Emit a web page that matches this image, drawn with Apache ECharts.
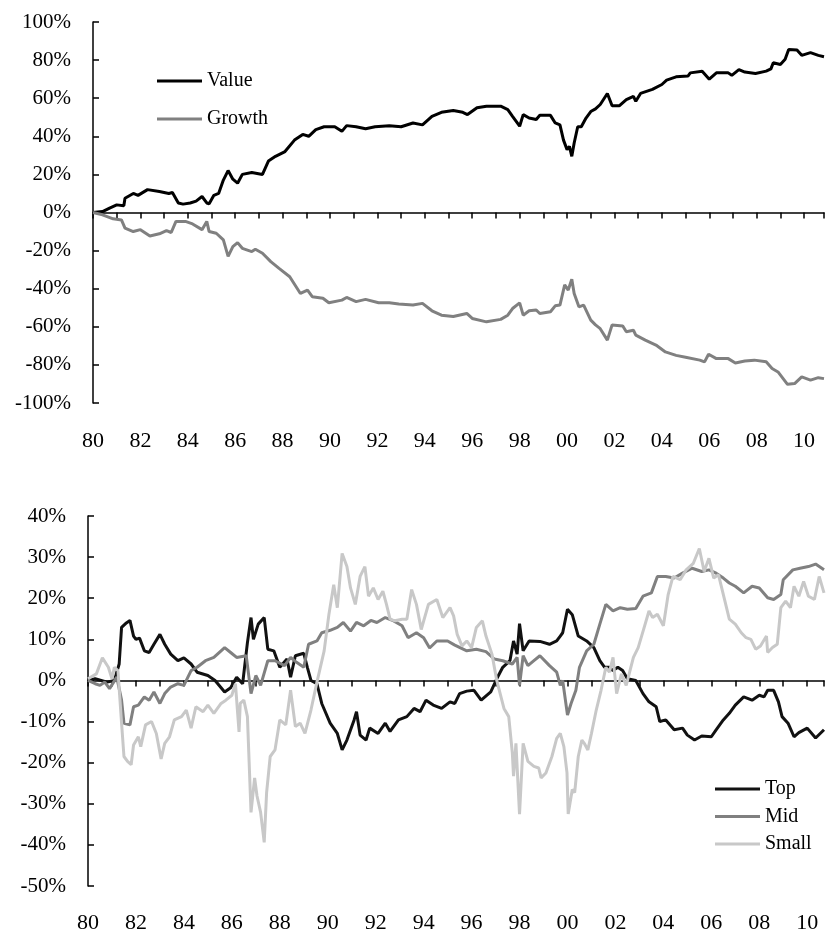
<!DOCTYPE html>
<html>
<head>
<meta charset="utf-8">
<script src="https://cdn.jsdelivr.net/npm/echarts@6/dist/echarts.min.js"></script>
<style>
  html, body { margin: 0; padding: 0; background: #fff; }
  #chart { width: 827px; height: 934px; }
</style>
</head>
<body>
<div id="chart"></div>
<script>
// upper panel: Value vs Growth (cumulative, %)
var valueYears = [1980.0, 1980.4, 1980.7, 1981.0, 1981.3, 1981.35, 1981.7, 1981.9, 1982.3, 1982.8, 1983.2, 1983.35, 1983.6, 1983.8, 1984.1, 1984.35, 1984.6, 1984.8, 1984.9, 1985.1, 1985.3, 1985.5, 1985.7, 1985.9, 1986.1, 1986.3, 1986.7, 1987.15, 1987.4, 1987.7, 1988.1, 1988.5, 1988.85, 1989.1, 1989.4, 1989.75, 1990.2, 1990.5, 1990.7, 1991.1, 1991.5, 1991.9, 1992.5, 1993.0, 1993.5, 1993.9, 1994.3, 1994.7, 1995.2, 1995.6, 1995.8, 1996.2, 1996.6, 1997.2, 1997.5, 1997.7, 1998.0, 1998.15, 1998.4, 1998.7, 1998.85, 1999.3, 1999.5, 1999.7, 1999.85, 2000.0, 2000.1, 2000.2, 2000.3, 2000.45, 2000.6, 2000.8, 2001.0, 2001.2, 2001.4, 2001.7, 2001.9, 2002.2, 2002.5, 2002.8, 2002.9, 2003.1, 2003.6, 2004.0, 2004.2, 2004.6, 2005.1, 2005.2, 2005.7, 2006.0, 2006.3, 2006.8, 2006.95, 2007.25, 2007.5, 2007.95, 2008.4, 2008.6, 2008.7, 2009.0, 2009.2, 2009.35, 2009.7, 2009.9, 2010.27, 2010.6, 2010.84];
var valueData = [0, 0.5, 2.3, 4, 3.5, 7.5, 10, 9, 12, 11, 10, 10.5, 5, 4.4, 5, 6, 8.4, 5, 4.6, 9, 10, 17, 22, 17.5, 15.4, 20, 21, 20, 27, 29.5, 32, 38, 41, 40, 43.5, 45, 45, 42.6, 45.6, 45, 44, 45, 45.6, 45, 47, 46, 50.5, 52.6, 53.5, 52.6, 51.4, 55, 55.8, 55.8, 54, 50.5, 45.3, 51.4, 49.6, 48.8, 51, 51, 47, 46, 38, 33, 34.7, 29.5, 36.5, 45, 45, 49.6, 53, 54.4, 56.7, 62.5, 56, 56, 59.3, 61, 58.4, 62.5, 64.6, 67.2, 69.5, 71.2, 71.6, 73.3, 74.2, 70, 73.3, 73.3, 72, 75, 73.7, 73, 74.2, 75.4, 78.6, 77.7, 80.4, 85.6, 85.3, 82.5, 83.9, 82.5, 81.8];

var growthYears = [1980.0, 1980.4, 1980.85, 1981.2, 1981.35, 1981.7, 1982.0, 1982.4, 1982.8, 1983.1, 1983.3, 1983.5, 1983.9, 1984.2, 1984.6, 1984.8, 1984.9, 1985.2, 1985.5, 1985.7, 1985.9, 1986.1, 1986.3, 1986.7, 1986.85, 1987.15, 1987.5, 1987.85, 1988.3, 1988.75, 1989.05, 1989.25, 1989.7, 1989.95, 1990.5, 1990.7, 1991.1, 1991.5, 1992.05, 1992.5, 1992.9, 1993.5, 1993.9, 1994.3, 1994.7, 1995.2, 1995.77, 1996.0, 1996.6, 1997.2, 1997.5, 1997.7, 1998.0, 1998.15, 1998.4, 1998.7, 1998.85, 1999.3, 1999.5, 1999.7, 1999.9, 2000.05, 2000.2, 2000.3, 2000.5, 2000.7, 2001.0, 2001.2, 2001.4, 2001.7, 2001.9, 2002.35, 2002.5, 2002.8, 2002.9, 2003.3, 2003.75, 2004.15, 2004.6, 2005.0, 2005.6, 2005.8, 2005.97, 2006.3, 2006.8, 2007.1, 2007.5, 2007.9, 2008.4, 2008.65, 2008.9, 2009.3, 2009.6, 2009.9, 2010.27, 2010.6, 2010.84];
var growthData = [0, -1.2, -3.3, -3.9, -8.2, -10, -9, -12.3, -11.2, -9.5, -10.5, -4.7, -4.7, -6, -9, -4.7, -10, -10.9, -14.4, -23, -17.9, -15.8, -18.8, -20.5, -19.3, -21.4, -25.8, -29.3, -33.7, -42.5, -40.7, -44.2, -45, -47.4, -46, -44.6, -46.8, -45.6, -47.4, -47.4, -48, -48.6, -47.7, -51.6, -53.9, -54.6, -53, -55.6, -57.4, -56.1, -53.9, -50.4, -47.4, -53.9, -51.6, -51.2, -53, -52.1, -49, -48.6, -38, -40.7, -35, -42.5, -49.5, -48.6, -56.5, -59, -61, -67, -59, -59.6, -62.6, -61.8, -64.4, -67, -69.6, -73.2, -75, -76, -77.5, -78.4, -74.4, -76.7, -76.7, -79, -78, -77.5, -78.4, -81.9, -83.7, -90.2, -89.8, -86.3, -88, -86.7, -87.2];

// lower panel: Top / Mid / Small (%)
var topYears = [1980.0, 1980.3, 1980.55, 1980.8, 1981.1, 1981.3, 1981.4, 1981.6, 1981.75, 1981.9, 1982.0, 1982.15, 1982.35, 1982.55, 1982.75, 1983.0, 1983.2, 1983.45, 1983.75, 1984.0, 1984.3, 1984.55, 1985.0, 1985.3, 1985.7, 1985.95, 1986.2, 1986.45, 1986.65, 1986.8, 1986.9, 1987.1, 1987.35, 1987.5, 1987.75, 1988.0, 1988.3, 1988.45, 1988.65, 1989.0, 1989.15, 1989.3, 1989.55, 1989.75, 1990.1, 1990.4, 1990.6, 1990.8, 1991.1, 1991.2, 1991.35, 1991.6, 1991.75, 1992.1, 1992.4, 1992.6, 1992.95, 1993.3, 1993.6, 1993.85, 1994.1, 1994.4, 1994.75, 1995.1, 1995.3, 1995.5, 1995.8, 1996.1, 1996.4, 1996.8, 1997.05, 1997.3, 1997.6, 1997.75, 1997.9, 1998.0, 1998.15, 1998.4, 1998.85, 1999.25, 1999.55, 1999.7, 1999.8, 2000.0, 2000.2, 2000.45, 2000.8, 2001.1, 2001.35, 2001.55, 2001.75, 2001.9, 2002.1, 2002.3, 2002.5, 2002.85, 2003.15, 2003.4, 2003.7, 2003.85, 2004.1, 2004.45, 2004.8, 2005.0, 2005.3, 2005.6, 2006.0, 2006.2, 2006.5, 2006.75, 2007.0, 2007.35, 2007.7, 2008.0, 2008.2, 2008.35, 2008.6, 2008.8, 2008.95, 2009.2, 2009.45, 2009.65, 2010.0, 2010.35, 2010.7];
var topData = [0, 0.4, 0, -0.4, 0, 4, 12.9, 14, 14.6, 10.8, 10, 10.3, 7.2, 6.8, 8.8, 11.2, 8.8, 6.4, 4.8, 5.5, 4, 2, 1.2, 0, -2.8, -1.8, 0.8, -0.8, 9.2, 15.3, 10, 13.7, 15.3, 7.6, 7.2, 3.2, 5.2, 0.8, 6, 6.6, 3.2, 0, -0.8, -5.6, -10.4, -12.9, -16.9, -14.5, -9.6, -7.6, -13.3, -14.5, -11.6, -12.9, -10.4, -12.4, -9.6, -8.8, -6.8, -7.6, -4.8, -6, -6.8, -5.2, -5.6, -3.2, -2.6, -2.4, -4.8, -2.8, 0.4, 3.2, 4.8, 9.6, 6.4, 13.8, 7.2, 9.6, 9.5, 8.8, 9.6, 10.8, 11.6, 17.3, 16, 10.8, 9.6, 8, 4.8, 3.2, 3.2, 2.4, 3.2, 2.4, 0.4, 0, -3.2, -5.2, -6.4, -10, -9.6, -12, -11.6, -13.3, -14.5, -13.5, -13.7, -12, -9.6, -8, -6, -4, -4.8, -3.6, -4, -2.4, -2.4, -5.2, -8.8, -10.4, -13.7, -12.7, -11.6, -14, -12];

var midYears = [1980.0, 1980.3, 1980.5, 1980.7, 1980.9, 1981.2, 1981.4, 1981.5, 1981.75, 1981.9, 1982.1, 1982.35, 1982.55, 1982.75, 1983.0, 1983.2, 1983.45, 1983.75, 1984.0, 1984.3, 1984.55, 1984.9, 1985.25, 1985.7, 1985.95, 1986.2, 1986.6, 1986.8, 1987.0, 1987.2, 1987.5, 1987.8, 1988.2, 1988.45, 1988.7, 1989.0, 1989.2, 1989.55, 1989.75, 1990.1, 1990.4, 1990.65, 1990.95, 1991.2, 1991.5, 1991.8, 1992.05, 1992.4, 1992.75, 1993.1, 1993.35, 1993.7, 1994.0, 1994.25, 1994.55, 1995.0, 1995.3, 1995.8, 1996.2, 1996.6, 1996.95, 1997.3, 1997.7, 1997.9, 1998.0, 1998.15, 1998.35, 1998.6, 1998.85, 1999.25, 1999.55, 1999.7, 1999.8, 2000.0, 2000.15, 2000.35, 2000.5, 2000.8, 2001.1, 2001.35, 2001.6, 2001.9, 2002.2, 2002.5, 2002.85, 2003.15, 2003.5, 2003.75, 2004.1, 2004.45, 2004.8, 2005.2, 2005.6, 2005.9, 2006.2, 2006.5, 2006.75, 2007.0, 2007.35, 2007.7, 2008.0, 2008.35, 2008.6, 2008.9, 2009.0, 2009.4, 2009.7, 2010.05, 2010.35, 2010.7];
var midData = [0, -0.8, -1.2, -0.4, -2, 0.8, -4.8, -10.4, -10.8, -6.4, -6, -4, -4.8, -2.8, -5.6, -3.2, -1.6, -0.8, -1.2, 2.4, 3.2, 4.8, 5.6, 8, 6.8, 5.6, 6, -3.2, 1.2, -1.2, 4.8, 4.8, 3.6, 5.6, 4.4, 3.2, 8.8, 9.6, 11.6, 12.2, 12.9, 14.1, 12, 14.1, 13.3, 14.6, 14.1, 15.3, 14.5, 13.3, 10.4, 11.6, 10.4, 7.9, 9.6, 9.6, 8.6, 7.2, 7.6, 7, 5.2, 4.8, 4, 5.6, -1.2, 6, 3.6, 4.8, 6, 3.6, 2, -1.2, 0, -8.4, -5.6, -2.4, 3.2, 7.2, 8.8, 13.7, 18.5, 16.9, 17.7, 17.3, 17.5, 20.5, 21.3, 25.3, 25.3, 24.9, 26.1, 27.3, 26.5, 26.9, 26.1, 24.9, 23.7, 22.9, 21.3, 22.9, 22.5, 20.1, 19.7, 20.9, 24.5, 26.9, 27.3, 27.7, 28.3, 26.9];

var smallYears = [1980.0, 1980.35, 1980.6, 1980.85, 1981.0, 1981.1, 1981.25, 1981.4, 1981.5, 1981.65, 1981.8, 1981.9, 1982.1, 1982.2, 1982.4, 1982.65, 1982.85, 1983.05, 1983.2, 1983.4, 1983.6, 1983.9, 1984.1, 1984.3, 1984.5, 1984.8, 1985.0, 1985.25, 1985.55, 1985.75, 1986.0, 1986.15, 1986.3, 1986.35, 1986.5, 1986.65, 1986.8, 1986.95, 1987.05, 1987.2, 1987.35, 1987.45, 1987.6, 1987.8, 1988.0, 1988.25, 1988.45, 1988.65, 1988.85, 1989.05, 1989.3, 1989.55, 1989.85, 1990.05, 1990.25, 1990.4, 1990.6, 1990.8, 1990.95, 1991.15, 1991.35, 1991.55, 1991.7, 1991.9, 1992.1, 1992.3, 1992.45, 1992.6, 1992.8, 1993.1, 1993.3, 1993.5, 1993.7, 1993.9, 1994.2, 1994.55, 1994.8, 1995.1, 1995.25, 1995.4, 1995.6, 1995.8, 1996.0, 1996.2, 1996.45, 1996.6, 1996.85, 1997.05, 1997.35, 1997.55, 1997.7, 1997.75, 1997.85, 1998.0, 1998.15, 1998.35, 1998.6, 1998.8, 1998.9, 1999.1, 1999.35, 1999.55, 1999.7, 1999.85, 1999.98, 2000.03, 2000.2, 2000.3, 2000.45, 2000.6, 2000.7, 2000.85, 2001.0, 2001.2, 2001.4, 2001.6, 2001.75, 2001.9, 2002.05, 2002.25, 2002.45, 2002.75, 2002.95, 2003.2, 2003.4, 2003.55, 2003.75, 2004.0, 2004.2, 2004.4, 2004.7, 2004.95, 2005.25, 2005.5, 2005.7, 2005.9, 2006.1, 2006.3, 2006.55, 2006.75, 2007.0, 2007.25, 2007.45, 2007.65, 2007.85, 2008.05, 2008.3, 2008.35, 2008.55, 2008.75, 2008.9, 2009.1, 2009.3, 2009.45, 2009.65, 2009.85, 2010.05, 2010.3, 2010.5, 2010.7];
var smallData = [0.4, 1.6, 5.5, 3.2, 0.4, 3.2, 2.4, -10.4, -18.5, -19.7, -20.5, -15.7, -13.7, -16.1, -10.8, -10, -12.9, -19.1, -15.3, -13.7, -9.6, -8.8, -7.2, -11.6, -6.4, -7.6, -6, -8, -5.6, -4.8, -3.6, -0.8, -12.5, -5.6, -4.8, -8.8, -32.1, -23.7, -28.1, -32.1, -39.4, -27.3, -18.5, -16.9, -9.6, -10.8, -2.4, -11.2, -10.4, -12.9, -7.2, -0.4, 7.2, 16.1, 23.3, 17.7, 30.9, 27.7, 22.5, 18.5, 25.3, 27.7, 20.5, 22.5, 19.7, 21.7, 18.5, 14.9, 14.5, 14.9, 14.9, 22.1, 18.5, 12.4, 18.5, 19.7, 15.3, 17.7, 15.7, 11.2, 8.4, 9.6, 8, 12.9, 14.5, 10.8, 6.4, 0, -6.8, -8.8, -17.7, -23.3, -15.3, -32.5, -15.3, -19.7, -20.9, -21.3, -23.7, -22.5, -18.5, -14.1, -12.9, -16.1, -22.5, -32.5, -26.5, -27.3, -18.5, -14.5, -15.3, -16.9, -12.9, -7.2, -2.4, 3.2, 2, 5.6, -3.2, 1.6, -1.2, 5.6, 8, 12.9, 16.9, 15.3, 16.1, 13.3, 20.9, 25.3, 24.5, 26.9, 28.5, 32.1, 26.5, 29.7, 24.9, 25.7, 19.7, 14.9, 13.7, 11.6, 10.4, 10, 7.6, 8.4, 10.8, 6.8, 8, 8.8, 17.7, 19.3, 17.7, 22.9, 20.5, 24.1, 20.5, 19.7, 25.3, 21.3];

var FONT = 'Liberation Serif';

function pairs(xs, ys) {
    var out = [];
    for (var i = 0; i < xs.length; i++) out.push([xs[i], ys[i]]);
    return out;
}

function yearLabel(v) {
    if (Math.abs(v - Math.round(v)) > 1e-6) return '';
    var y = Math.round(v);
    if (y % 2 !== 0) return '';
    return String(y % 100).padStart(2, '0');
}

function lineAxis(grid, max) {
    return {
        type: 'value', gridIndex: grid, min: 1980, max: max, interval: 1,
        axisLine: { onZero: true, lineStyle: { color: '#000', width: 1.5 } },
        axisTick: { show: true, length: 6, lineStyle: { color: '#000', width: 1.5 } },
        axisLabel: { show: false },
        splitLine: { show: false }
    };
}

function labelAxis(grid, max, margin) {
    return {
        type: 'value', gridIndex: grid, min: 1980, max: max, interval: 1,
        position: 'bottom',
        axisLine: { show: false, onZero: false },
        axisTick: { show: false },
        axisLabel: { margin: margin, formatter: yearLabel, color: '#000', fontFamily: FONT, fontSize: 22 },
        splitLine: { show: false }
    };
}

function pctAxis(grid, min, max, interval) {
    return {
        type: 'value', gridIndex: grid, min: min, max: max, interval: interval,
        axisLine: { show: true, lineStyle: { color: '#000', width: 1.5 } },
        axisTick: { show: true, inside: true, length: 6, lineStyle: { color: '#000', width: 1.5 } },
        axisLabel: { formatter: '{value}%', margin: 22, color: '#000', fontFamily: FONT, fontSize: 21 },
        splitLine: { show: false }
    };
}

function line(name, x, y, xi, yi, color) {
    return {
        name: name, type: 'line', xAxisIndex: xi, yAxisIndex: yi,
        data: pairs(x, y), showSymbol: false, symbol: 'none',
        lineStyle: { color: color, width: 3 }, itemStyle: { color: color }
    };
}

var option = {
    animation: false,
    backgroundColor: '#fff',
    grid: [
        { left: 93, right: 0, top: 22, height: 381 },
        { left: 88, right: 0, top: 516, height: 375 }
    ],
    legend: [
        {
            data: ['Value', 'Growth'], orient: 'vertical', left: 157, top: 71, padding: 0,
            icon: 'rect', itemWidth: 45, itemHeight: 3, itemGap: 18,
            textStyle: { fontFamily: FONT, fontSize: 20, color: '#000', lineHeight: 20 }
        },
        {
            data: ['Top', 'Mid', 'Small'], orient: 'vertical', left: 715, top: 779, padding: 0,
            icon: 'rect', itemWidth: 45, itemHeight: 3, itemGap: 7.5,
            textStyle: { fontFamily: FONT, fontSize: 20, color: '#000', lineHeight: 20 }
        }
    ],
    xAxis: [
        lineAxis(0, 2010.84),
        labelAxis(0, 2010.84, 27),
        lineAxis(1, 2010.7),
        labelAxis(1, 2010.7, 26)
    ],
    yAxis: [
        pctAxis(0, -100, 100, 20),
        pctAxis(1, -50, 40, 10)
    ],
    series: [
        line('Value', valueYears, valueData, 0, 0, '#000000'),
        line('Growth', growthYears, growthData, 0, 0, '#808080'),
        line('Top', topYears, topData, 2, 1, '#111111'),
        line('Mid', midYears, midData, 2, 1, '#808080'),
        line('Small', smallYears, smallData, 2, 1, '#c8c8c8')
    ]
};

var chart = echarts.init(document.getElementById('chart'));
chart.setOption(option);
</script>
</body>
</html>
